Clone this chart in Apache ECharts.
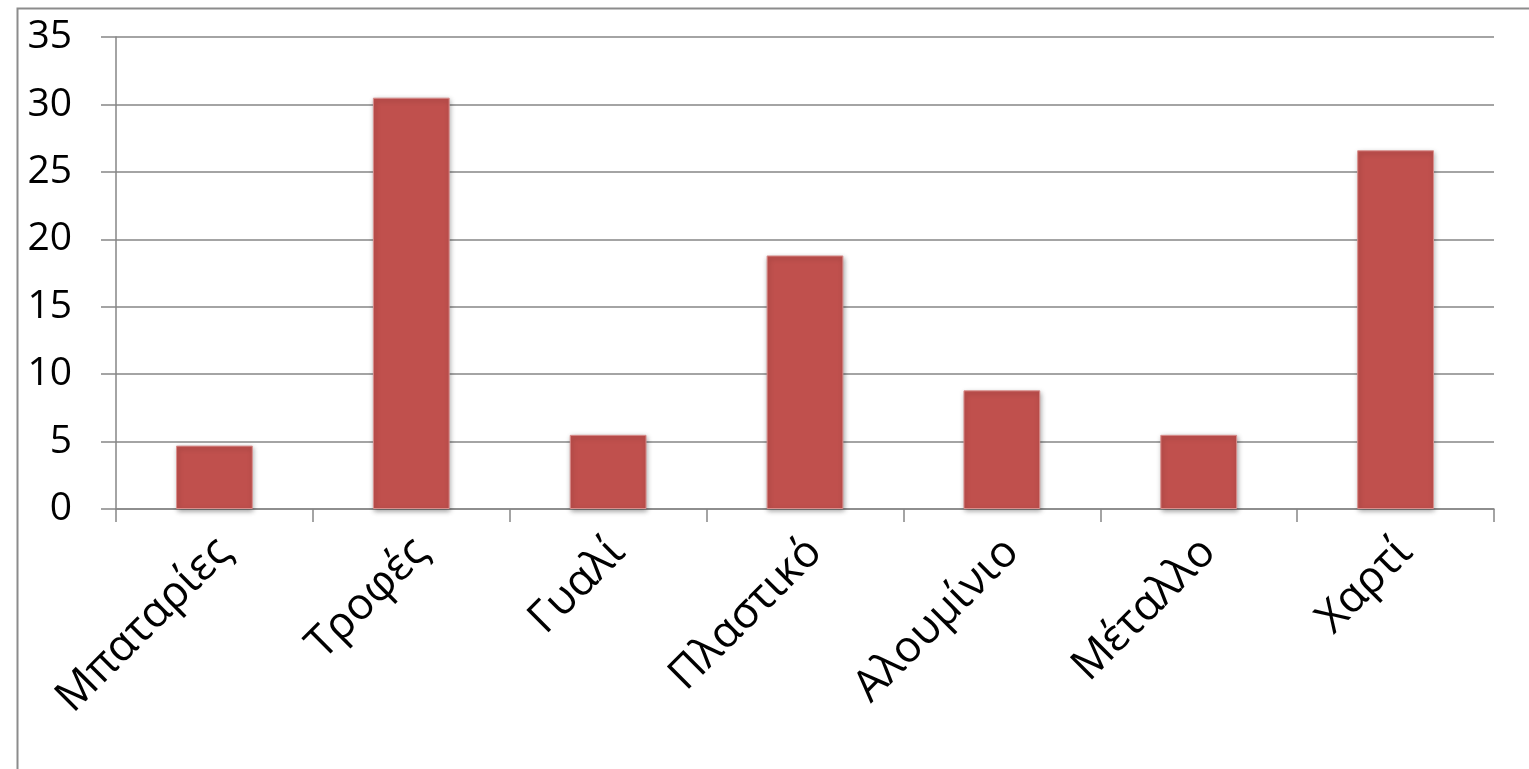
<!DOCTYPE html>
<html>
<head>
<meta charset="utf-8">
<script src="https://cdn.jsdelivr.net/npm/echarts@6/dist/echarts.min.js"></script>
<style>
html,body{margin:0;padding:0;background:#fff;}
#chart{width:1529px;height:769px;}
</style>
</head>
<body>
<div id="chart"></div>
<script>
const categories = ["Μπαταρίες", "Τροφές", "Γυαλί", "Πλαστικό", "Αλουμίνιο", "Μέταλλο", "Χαρτί"];
const values = [4.7, 30.5, 5.5, 18.8, 8.8, 5.5, 26.6];
const yTicks = [0, 5, 10, 15, 20, 25, 30, 35];

const chart = echarts.init(document.getElementById('chart'), null, {renderer: 'canvas'});
const FONT = '"Open Sans", "Noto Sans", sans-serif';
chart.setOption({
  animation: false,
  backgroundColor: '#ffffff',
  graphic: [{
    type: 'rect',
    left: 15, top: 6,
    shape: {width: 1540, height: 800},
    style: {fill: 'none', stroke: '#8c8c8c', lineWidth: 2},
    silent: true
  }],
  grid: {left: 116, right: 35, top: 37, bottom: 260, containLabel: false},
  xAxis: {
    type: 'category',
    data: categories,
    boundaryGap: true,
    axisLine: {show: true, lineStyle: {color: '#868686', width: 1.5}},
    axisTick: {show: true, length: 13, alignWithLabel: false, lineStyle: {color: '#868686', width: 1.5}},
    axisLabel: {rotate: 45, margin: 46, padding: [0, -14, 0, 0], fontFamily: FONT, fontSize: 44, color: '#000'},
    splitLine: {show: false}
  },
  yAxis: {
    type: 'value',
    min: 0, max: yTicks[yTicks.length - 1], interval: yTicks[1] - yTicks[0],
    axisLine: {show: true, lineStyle: {color: '#868686', width: 1.5}},
    axisTick: {show: true, length: 15, lineStyle: {color: '#868686', width: 1.5}},
    axisLabel: {margin: 44, fontFamily: FONT, fontSize: 39, color: '#000'},
    splitLine: {show: true, lineStyle: {color: '#868686', width: 1.5}}
  },
  series: [{
    type: 'bar',
    data: values,
    barWidth: '39%',
    itemStyle: {
      color: '#C0504D',
      borderColor: '#d98f8d',
      borderWidth: 1,
      shadowColor: 'rgba(0,0,0,0.35)',
      shadowBlur: 5,
      shadowOffsetX: 1,
      shadowOffsetY: 2
    }
  }]
});
</script>
</body>
</html>
